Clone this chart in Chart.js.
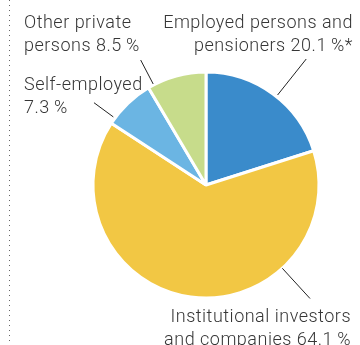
<!DOCTYPE html>
<html>
<head>
<meta charset="utf-8">
<script src="https://cdn.jsdelivr.net/npm/chart.js@4.4.1/dist/chart.umd.min.js"></script>
<style>
    html, body { margin: 0; padding: 0; background: #fff; }
    #wrap { width: 360px; height: 345px; }
</style>
</head>
<body>
<div id="wrap"><canvas id="shareholders" width="360" height="345"></canvas></div>
<script>
    // Shareholder structure, share of capital in percent
    var categories = [
        ['Employed persons and', 'pensioners'],
        ['Institutional investors', 'and companies'],
        ['Self-employed', ''],
        ['Other private', 'persons']
    ];
    var shares = [20.1, 64.1, 7.3, 8.5];
    var notes = ['*', '', '', ''];
    var sliceColors = ['#3a8bcb', '#f2c744', '#6bb5e3', '#c7dc8b'];

    // Callout placement: leader line angle (deg from 12 o'clock), radii, text anchor
    var callouts = [
        { angle: 38.5,  r1: 115, r2: 161, x: 353, y: 28,  align: 'right' },
        { angle: 137.5, r1: 113, r2: 154, x: 351, y: 322, align: 'right' },
        { angle: 306.3, r1: 115, r2: 139, x: 24,  y: 90,  align: 'left' },
        { angle: 332.4, r1: 114, r2: 141, x: 24,  y: 28,  align: 'left' }
    ];

    function labelLines(i) {
        var value = shares[i].toFixed(1) + '\u2009%' + notes[i];
        var first = categories[i][0];
        var second = categories[i][1];
        return [first, second ? second + ' ' + value : value];
    }

    var calloutPlugin = {
        id: 'callouts',
        afterDraw: function (chart) {
            var ctx = chart.ctx;
            var arc = chart.getDatasetMeta(0).data[0];
            var cx = arc.x, cy = arc.y;

            ctx.save();

            // dotted rule down the left margin
            ctx.strokeStyle = '#666';
            ctx.lineWidth = 1;
            ctx.setLineDash([1, 4]);
            ctx.beginPath();
            ctx.moveTo(9.5, 0);
            ctx.lineTo(9.5, 342);
            ctx.stroke();
            ctx.setLineDash([]);

            ctx.strokeStyle = '#222';
            ctx.fillStyle = '#363636';
            ctx.font = '300 18px Roboto, "Liberation Sans", sans-serif';
            ctx.letterSpacing = '0.5px';
            ctx.textBaseline = 'alphabetic';

            callouts.forEach(function (c, i) {
                var a = c.angle * Math.PI / 180;
                var sx = Math.sin(a), sy = -Math.cos(a);
                ctx.beginPath();
                ctx.moveTo(cx + sx * c.r1, cy + sy * c.r1);
                ctx.lineTo(cx + sx * c.r2, cy + sy * c.r2);
                ctx.stroke();

                ctx.textAlign = c.align;
                labelLines(i).forEach(function (line, k) {
                    ctx.fillText(line, c.x, c.y + k * 23);
                });
            });

            ctx.restore();
        }
    };

    new Chart(document.getElementById('shareholders'), {
        type: 'pie',
        data: {
            labels: categories.map(function (c) { return c.join(' '); }),
            datasets: [{
                data: shares,
                backgroundColor: sliceColors,
                borderColor: '#ffffff',
                borderWidth: 3,
                radius: 113
            }]
        },
        options: {
            responsive: false,
            animation: false,
            layout: {
                padding: { left: 95, right: 43, top: 74, bottom: 49 }
            },
            plugins: {
                legend: { display: false },
                tooltip: { enabled: false }
            }
        },
        plugins: [calloutPlugin]
    });
</script>
</body>
</html>
